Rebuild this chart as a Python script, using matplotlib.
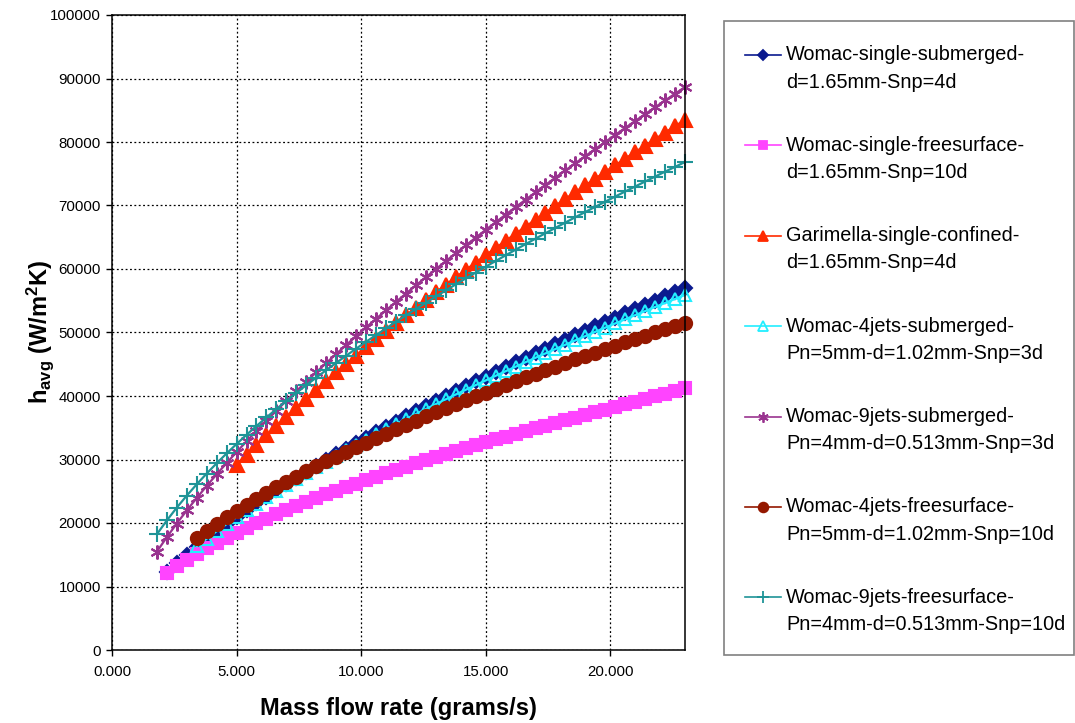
import matplotlib
matplotlib.use("Agg")
import matplotlib.pyplot as plt
from matplotlib.lines import Line2D
from matplotlib.patches import Rectangle

plt.rcParams['font.family'] = ['Liberation Sans', 'DejaVu Sans']
plt.rcParams['mathtext.fontset'] = 'custom'
plt.rcParams['mathtext.rm'] = 'Liberation Sans'
plt.rcParams['mathtext.it'] = 'Liberation Sans:italic'
plt.rcParams['mathtext.bf'] = 'Liberation Sans:bold'

# mass flow rate (grams/s); every series uses the tail of this list
mdot = [1.8, 2.2, 2.6, 3.0, 3.4, 3.8, 4.2, 4.6, 5.0, 5.4, 5.8, 6.2, 6.6, 7.0,
        7.4, 7.8, 8.2, 8.6, 9.0, 9.4, 9.8, 10.2, 10.6, 11.0, 11.4, 11.8, 12.2,
        12.6, 13.0, 13.4, 13.8, 14.2, 14.6, 15.0, 15.4, 15.8, 16.2, 16.6, 17.0,
        17.4, 17.8, 18.2, 18.6, 19.0, 19.4, 19.8, 20.2, 20.6, 21.0, 21.4, 21.8,
        22.2, 22.6, 23.0]

# h_avg (W/m^2K)
h_single_sub = [12220, 13640, 14980, 16260, 17490, 18680, 19830, 20940, 22030,
                23080, 24120, 25130, 26110, 27080, 28030, 28970, 29890, 30800,
                31690, 32570, 33430, 34290, 35130, 35960, 36780, 37590, 38400,
                39190, 39980, 40760, 41530, 42290, 43050, 43810, 44550, 45280,
                46020, 46740, 47460, 48170, 48880, 49580, 50270, 50970, 51650,
                52340, 53010, 53690, 54360, 55020, 55680, 56330, 56990]
h_single_free = [12100, 13150, 14170, 15120, 16020, 16880, 17700, 18480, 19230,
                 19960, 20670, 21350, 22010, 22660, 23290, 23900, 24500, 25090,
                 25660, 26220, 26770, 27320, 27850, 28370, 28880, 29390, 29890,
                 30370, 30860, 31330, 31800, 32260, 32720, 33170, 33620, 34060,
                 34490, 34920, 35350, 35770, 36180, 36600, 37000, 37410, 37810,
                 38250, 38680, 39110, 39540, 39950, 40370, 40780, 41200]
h_garimella = [29130, 30720, 32280, 33790, 35280, 36750, 38180, 39590, 40980,
               42350, 43710, 45040, 46350, 47650, 48930, 50200, 51450, 52680,
               53910, 55130, 56320, 57520, 58690, 59860, 61020, 62170, 63310,
               64440, 65560, 66670, 67780, 68880, 69960, 71050, 72120, 73180,
               74250, 75300, 76340, 77390, 78420, 79440, 80470, 81490, 82490,
               83500]
h_4jets_sub = [16320, 17530, 18700, 19830, 20920, 21990, 23020, 24030, 25020,
               25990, 26940, 27860, 28770, 29670, 30550, 31420, 32280, 33120,
               33950, 34770, 35580, 36380, 37160, 37950, 38720, 39480, 40240,
               40980, 41720, 42450, 43180, 43900, 44610, 45320, 46020, 46710,
               47400, 48080, 48760, 49430, 50110, 50770, 51430, 52080, 52730,
               53370, 54010, 54650, 55280, 55910]
h_9jets_sub = [15480, 17760, 19920, 21970, 23930, 25830, 27660, 29440, 31170,
               32860, 34510, 36120, 37700, 39250, 40770, 42270, 43740, 45200,
               46620, 48030, 49420, 50800, 52150, 53500, 54820, 56130, 57430,
               58710, 59980, 61240, 62480, 63710, 64940, 66160, 67360, 68550,
               69740, 70910, 72070, 73240, 74390, 75530, 76660, 77780, 78900,
               80010, 81120, 82210, 83310, 84390, 85460, 86540, 87600, 88660]
h_4jets_free = [17660, 18800, 19880, 20920, 21920, 22880, 23820, 24720, 25610,
                26460, 27300, 28120, 28910, 29700, 30460, 31210, 31950, 32670,
                33390, 34090, 34770, 35450, 36120, 36780, 37430, 38070, 38700,
                39330, 39940, 40550, 41160, 41750, 42340, 42920, 43500, 44070,
                44630, 45190, 45750, 46290, 46840, 47370, 47910, 48440, 48960,
                49480, 50000, 50510, 51010, 51520]
h_9jets_free = [18220, 20400, 22420, 24310, 26090, 27790, 29400, 30950, 32440,
                33890, 35280, 36630, 37950, 39240, 40490, 41710, 42900, 44080,
                45220, 46350, 47460, 48540, 49600, 50650, 51690, 52700, 53700,
                54690, 55670, 56630, 57580, 58520, 59440, 60360, 61260, 62150,
                63040, 63910, 64780, 65640, 66480, 67320, 68160, 68980, 69800,
                70610, 71410, 72210, 72990, 73780, 74550, 75330, 76080, 76850]

labels = [
    ("Womac-single-submerged-", "d=1.65mm-Snp=4d"),
    ("Womac-single-freesurface-", "d=1.65mm-Snp=10d"),
    ("Garimella-single-confined-", "d=1.65mm-Snp=4d"),
    ("Womac-4jets-submerged-", "Pn=5mm-d=1.02mm-Snp=3d"),
    ("Womac-9jets-submerged-", "Pn=4mm-d=0.513mm-Snp=3d"),
    ("Womac-4jets-freesurface-", "Pn=5mm-d=1.02mm-Snp=10d"),
    ("Womac-9jets-freesurface-", "Pn=4mm-d=0.513mm-Snp=10d"),
]
values = [h_single_sub, h_single_free, h_garimella, h_4jets_sub,
          h_9jets_sub, h_4jets_free, h_9jets_free]

# (color, marker, size on plot, size in legend, face)
styles = [
    ("#0b1a8f", "D", 7.5, 5.5, None),
    ("#ff44ff", "s", 8.5, 5.5, None),
    ("#ff2a00", "^", 9.5, 6.5, None),
    ("#22eeff", "^", 8.5, 6.5, "none"),
    ("#99338f", (6, 2, 0), 10, 7.5, None),
    ("#941800", "o", 9.5, 7.0, None),
    ("#1f9497", "+", 11, 8.5, None),
]

W, H = 1075, 723
fig = plt.figure(figsize=(W / 100, H / 100), dpi=100)
ax = fig.add_axes([112 / W, 73 / H, 573 / W, 635 / H])

for h, (c, m, ms, _, mfc) in zip(values, styles):
    x = mdot[-len(h):]
    ax.plot(x, h, color=c, lw=1.6, marker=m, ms=ms,
            mfc=c if mfc is None else mfc, mec=c, mew=1.5, clip_on=False)

ax.set_xlim(0, 23)
ax.set_ylim(0, 100000)
ax.set_xticks([0, 5, 10, 15, 20])
ax.set_xticklabels(["%.3f" % t for t in [0, 5, 10, 15, 20]])
ax.set_yticks(range(0, 100001, 10000))
ax.set_axisbelow(True)
ax.grid(True, color="black", ls=(0, (1.5, 2)), lw=0.9)
ax.tick_params(direction="out", length=4, width=1, labelsize=10.8, pad=4)
ax.tick_params(axis="x", pad=7)
for s in ax.spines.values():
    s.set_linewidth(1.1)

fig.text(398 / W, 1 - 708 / H, "Mass flow rate (grams/s)", ha="center",
         va="center", fontsize=17, fontweight="bold")
fig.text(40 / W, 1 - 332 / H, r"h$_{\mathbf{avg}}$ (W/m$^{\mathbf{2}}$K)",
         ha="center", va="center", rotation=90, fontsize=17, fontweight="bold")

# legend box drawn by hand so the marker sits on the first text line
fig.add_artist(Rectangle((724 / W, 1 - 655 / H), 350 / W, 634 / H,
                         transform=fig.transFigure, fill=False,
                         edgecolor="#808080", lw=1.2))
for i, ((l1, l2), (c, m, _, lms, mfc)) in enumerate(zip(labels, styles)):
    yp = 55 + i * 90.4
    yf = 1 - yp / H
    fig.add_artist(Line2D([745 / W, 781 / W], [yf, yf], transform=fig.transFigure,
                          color=c, lw=1.2))
    fig.add_artist(Line2D([763 / W], [yf], transform=fig.transFigure, color=c,
                          marker=m, ms=lms, mfc=c if mfc is None else mfc,
                          mec=c, mew=1.3, lw=0))
    fig.text(786 / W, yf, l1, va="center", fontsize=14.3)
    fig.text(786 / W, 1 - (yp + 27) / H, l2, va="center", fontsize=14.3)

fig.savefig("out.png", dpi=100)
